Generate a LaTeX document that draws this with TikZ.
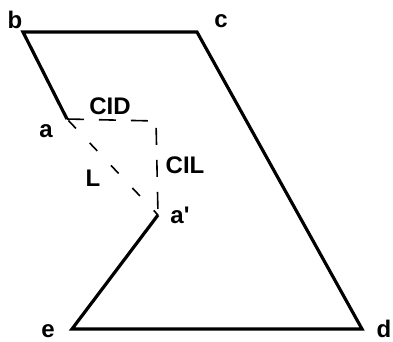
\documentclass[tikz,border=0pt]{standalone}
\usepackage{fontspec}
\setmainfont{Liberation Sans}
\usetikzlibrary{positioning}
\tikzset{
  edge/.style={line width=3.2pt, line join=miter},
  hidden/.style={line width=1.6pt, dash pattern=on 17pt off 15pt},
  slant/.style={line width=1.6pt, dash pattern=on 11pt off 20pt},
  tag/.style={font=\bfseries\fontsize{24}{24}\selectfont, inner sep=0pt, anchor=base}
}

\begin{document}
\begin{tikzpicture}[x=1pt, y=-1pt]
    \useasboundingbox (0,0) rectangle (393,341);
    % corners
    \coordinate (b) at (23,32);
    \coordinate (c) at (197,32);
    \coordinate (d) at (362,329);
    \coordinate (e) at (72,329);
    \coordinate (a) at (67,119);
    \coordinate (ap) at (158,215);
    \coordinate (k) at (156,121);
    % outline
    \draw[edge] (a) -- (b) -- (c) -- (d) -- (e) -- (ap);
    % dashed construction
    \draw[hidden] (a) -- (k) -- (ap);
    \draw[slant, dash phase=-2pt] (a) -- (ap);
    % labels
    \node[tag] (lb) at (15,28) {b};
    \node[tag] (lc) at (221,27) {c};
    \node[tag] (ld) at (384,337) {d};
    \node[tag] (le) at (48,337) {e};
    \node[tag] (la) at (46,137) {a};
    \node[tag] (lap) at (180,223) {a\textquotesingle};
    \node[tag] (lcid) at (110,114) {CID};
    \node[tag] (lcil) at (185,173) {CIL};
    \node[tag] (ll) at (93,186) {L};
  \end{tikzpicture}
\end{document}
